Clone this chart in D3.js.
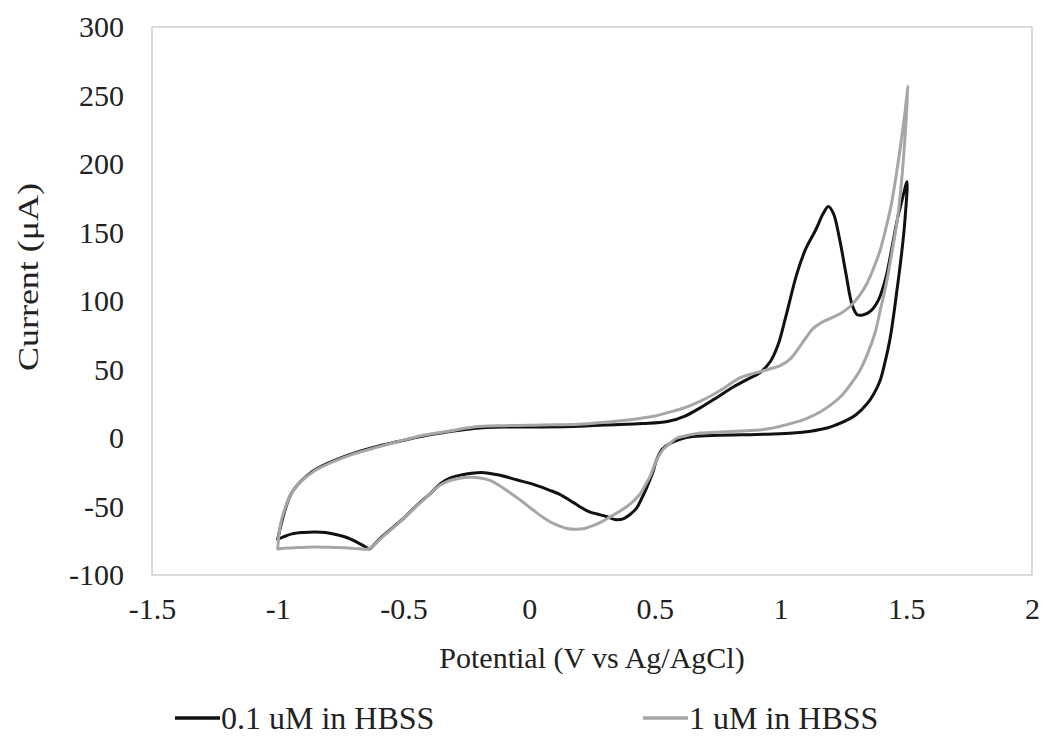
<!DOCTYPE html>
<html>
<head>
<meta charset="utf-8">
<script src="https://cdn.jsdelivr.net/npm/d3@7"></script>
<style>
  html, body { margin: 0; padding: 0; background: #fff; }
  svg text { font-family: "Liberation Serif", "Times New Roman", serif; fill: #222; }
</style>
</head>
<body>
<svg id="chart" width="1050" height="743"></svg>
<script>
// ---- Data ----
const xTicks = [-1.5, -1, -0.5, 0, 0.5, 1, 1.5, 2];
const yTicks = [-100, -50, 0, 50, 100, 150, 200, 250, 300];
const seriesNames = ["0.1 uM in HBSS", "1 uM in HBSS"];

// 0.1 uM in HBSS: potential (V) and current (µA), forward then reverse sweep
const potential01 = [
  -1.0, -0.985, -0.97, -0.95, -0.92, -0.85, -0.72, -0.6, -0.52, -0.42, -0.32, -0.22, -0.1, 0.05, 0.2, 0.3, 0.45, 0.55, 0.62, 0.68, 0.75, 0.81, 0.87, 0.92, 0.96, 0.99, 1.02, 1.065, 1.1, 1.14, 1.17, 1.19, 1.21, 1.235, 1.26, 1.285, 1.305, 1.33, 1.36, 1.39, 1.42, 1.44, 1.465, 1.485, 1.503,
  1.495, 1.487, 1.475, 1.463, 1.45, 1.435, 1.415, 1.396, 1.37, 1.344, 1.3, 1.264, 1.22, 1.185, 1.12, 1.05, 0.95, 0.85, 0.75, 0.65, 0.6, 0.56, 0.53, 0.507, 0.49, 0.468, 0.448, 0.428, 0.4, 0.374, 0.34, 0.31, 0.27, 0.24, 0.2, 0.175, 0.12, 0.08, 0.02, -0.05, -0.12, -0.18, -0.23, -0.27, -0.31, -0.35, -0.39, -0.44, -0.49, -0.54, -0.585, -0.615, -0.635, -0.655, -0.68, -0.72, -0.76, -0.81, -0.852, -0.9, -0.943, -0.975, -1.0
];
const current01 = [
  -74, -62, -52, -42, -34, -23, -12.5, -6, -2.5, 1.5, 4.5, 7, 8, 8, 8.5, 9.5, 10.5, 12, 16, 22, 30, 37, 43, 48, 56, 68, 88, 120, 138, 152, 164, 169, 164, 145, 120, 97, 90, 90, 93, 101, 118, 136, 160, 175, 187,
  160, 144, 125, 108, 90, 72, 55, 42, 32, 25, 17, 13, 9.5, 7.3, 5, 3.6, 2.8, 2.3, 2, 1, -1, -4, -8, -16, -26, -36, -44, -51, -56, -59, -59.5, -57.5, -55.5, -54, -50, -47, -41, -38, -34, -30.5, -27, -25.3, -25.8, -27, -29, -33, -40, -48, -57, -65, -72, -77.5, -81, -79, -76.5, -73, -70.8, -69, -68.6, -69, -70, -72, -74
];

// 1 uM in HBSS
const potential1 = [
  -1.0, -0.995, -0.985, -0.97, -0.95, -0.92, -0.85, -0.72, -0.6, -0.52, -0.42, -0.32, -0.22, -0.1, 0.05, 0.2, 0.3, 0.41, 0.5, 0.55, 0.61, 0.67, 0.72, 0.78, 0.84, 0.9, 0.95, 1.0, 1.04, 1.07, 1.1, 1.13, 1.16, 1.2, 1.24, 1.276, 1.31, 1.344, 1.37, 1.396, 1.42, 1.44, 1.46, 1.48, 1.495, 1.507,
  1.495, 1.48, 1.465, 1.447, 1.43, 1.415, 1.395, 1.376, 1.345, 1.316, 1.28, 1.248, 1.209, 1.157, 1.1, 1.05, 0.946, 0.878, 0.78, 0.68, 0.62, 0.588, 0.56, 0.53, 0.505, 0.481, 0.46, 0.441, 0.415, 0.389, 0.355, 0.322, 0.29, 0.254, 0.22, 0.189, 0.15, 0.109, 0.06, 0.016, -0.03, -0.076, -0.12, -0.156, -0.2, -0.235, -0.28, -0.315, -0.35, -0.39, -0.44, -0.49, -0.54, -0.585, -0.62, -0.64, -0.68, -0.72, -0.8, -0.852, -0.92, -0.96, -1.0
];
const current1 = [
  -81, -70, -60, -51, -42, -34, -23.5, -13, -6.5, -2.5, 2, 5, 8, 9, 9.5, 10, 11.5, 13.5, 16, 18.5, 21.5, 26, 30.5, 37, 44, 47.5, 50, 53, 58, 65, 73, 80, 84, 87.5, 91, 96, 103, 113, 124, 137, 154, 170, 192, 217, 238, 257,
  220, 185, 160, 140, 122, 108, 92, 77, 61, 49.5, 39.5, 32, 25.5, 19, 14, 11, 6.5, 5.5, 4.5, 3.6, 1.5, 0, -4, -9, -17, -28, -35, -41, -46, -50, -54, -57.6, -61, -64, -66, -66.6, -66, -63.5, -58.5, -52.6, -46, -40, -34.5, -31, -29, -28.7, -29.5, -31, -34, -40, -48.5, -57, -65.5, -72.5, -78.5, -81, -80.8, -80.3, -79.8, -79.6, -80, -80.3, -81
];

const seriesColors = ["#111111", "#a6a6a6"];

// ---- Chart ----
const svg = d3.select("#chart");
const margin = { left: 152, top: 27, right: 18, bottom: 168 };
const W = 1050, H = 743;
const pw = W - margin.left - margin.right;
const ph = H - margin.top - margin.bottom;

const x = d3.scaleLinear().domain([-1.5, 2]).range([margin.left, margin.left + pw]);
const y = d3.scaleLinear().domain([-100, 300]).range([margin.top + ph, margin.top]);

// frame
svg.append("rect")
  .attr("x", margin.left).attr("y", margin.top)
  .attr("width", pw).attr("height", ph)
  .attr("fill", "none").attr("stroke", "#c4c4c4").attr("stroke-width", 1.2);

// axes (labels only, like Excel)
const xAxis = d3.axisBottom(x).tickValues(xTicks).tickSize(0).tickPadding(23)
  .tickFormat(d => String(d));
const gx = svg.append("g").attr("transform", `translate(0,${margin.top + ph})`).call(xAxis);
gx.select(".domain").remove();
gx.selectAll("text").attr("font-size", 30).attr("fill", "#222")
  .style("font-family", "Liberation Serif");

const yAxis = d3.axisLeft(y).tickValues(yTicks).tickSize(0).tickPadding(28)
  .tickFormat(d => String(d));
const gy = svg.append("g").attr("transform", `translate(${margin.left},0)`).call(yAxis);
gy.select(".domain").remove();
gy.selectAll("text").attr("font-size", 30).attr("fill", "#222")
  .style("font-family", "Liberation Serif");

// axis titles
svg.append("text")
  .attr("x", 592).attr("y", 668)
  .attr("text-anchor", "middle").attr("font-size", 30)
  .text("Potential (V vs Ag/AgCl)");

svg.append("text")
  .attr("transform", "translate(38,277) rotate(-90)")
  .attr("text-anchor", "middle").attr("font-size", 30)
  .attr("textLength", 188).attr("lengthAdjust", "spacingAndGlyphs")
  .text("Current (μA)");

// lines
const line = d3.line()
  .x(d => x(d[0])).y(d => y(d[1]))
  .curve(d3.curveCatmullRom.alpha(0.5));

const series = [
  { name: seriesNames[0], xs: potential01, ys: current01, color: seriesColors[0] },
  { name: seriesNames[1], xs: potential1, ys: current1, color: seriesColors[1] }
];

series.forEach(s => {
  svg.append("path")
    .datum(s.xs.map((v, i) => [v, s.ys[i]]))
    .attr("fill", "none")
    .attr("stroke", s.color)
    .attr("stroke-width", 3)
    .attr("stroke-linejoin", "round")
    .attr("stroke-linecap", "round")
    .attr("d", line);
});

// legend
const legendItems = [
  { name: seriesNames[0], color: seriesColors[0], x0: 175 },
  { name: seriesNames[1], color: seriesColors[1], x0: 643 }
];
legendItems.forEach(it => {
  svg.append("line")
    .attr("x1", it.x0).attr("x2", it.x0 + 45)
    .attr("y1", 718).attr("y2", 718)
    .attr("stroke", it.color).attr("stroke-width", 3.5);
  svg.append("text")
    .attr("x", it.x0 + 46).attr("y", 729)
    .attr("font-size", 32)
    .text(it.name);
});
</script>
</body>
</html>
